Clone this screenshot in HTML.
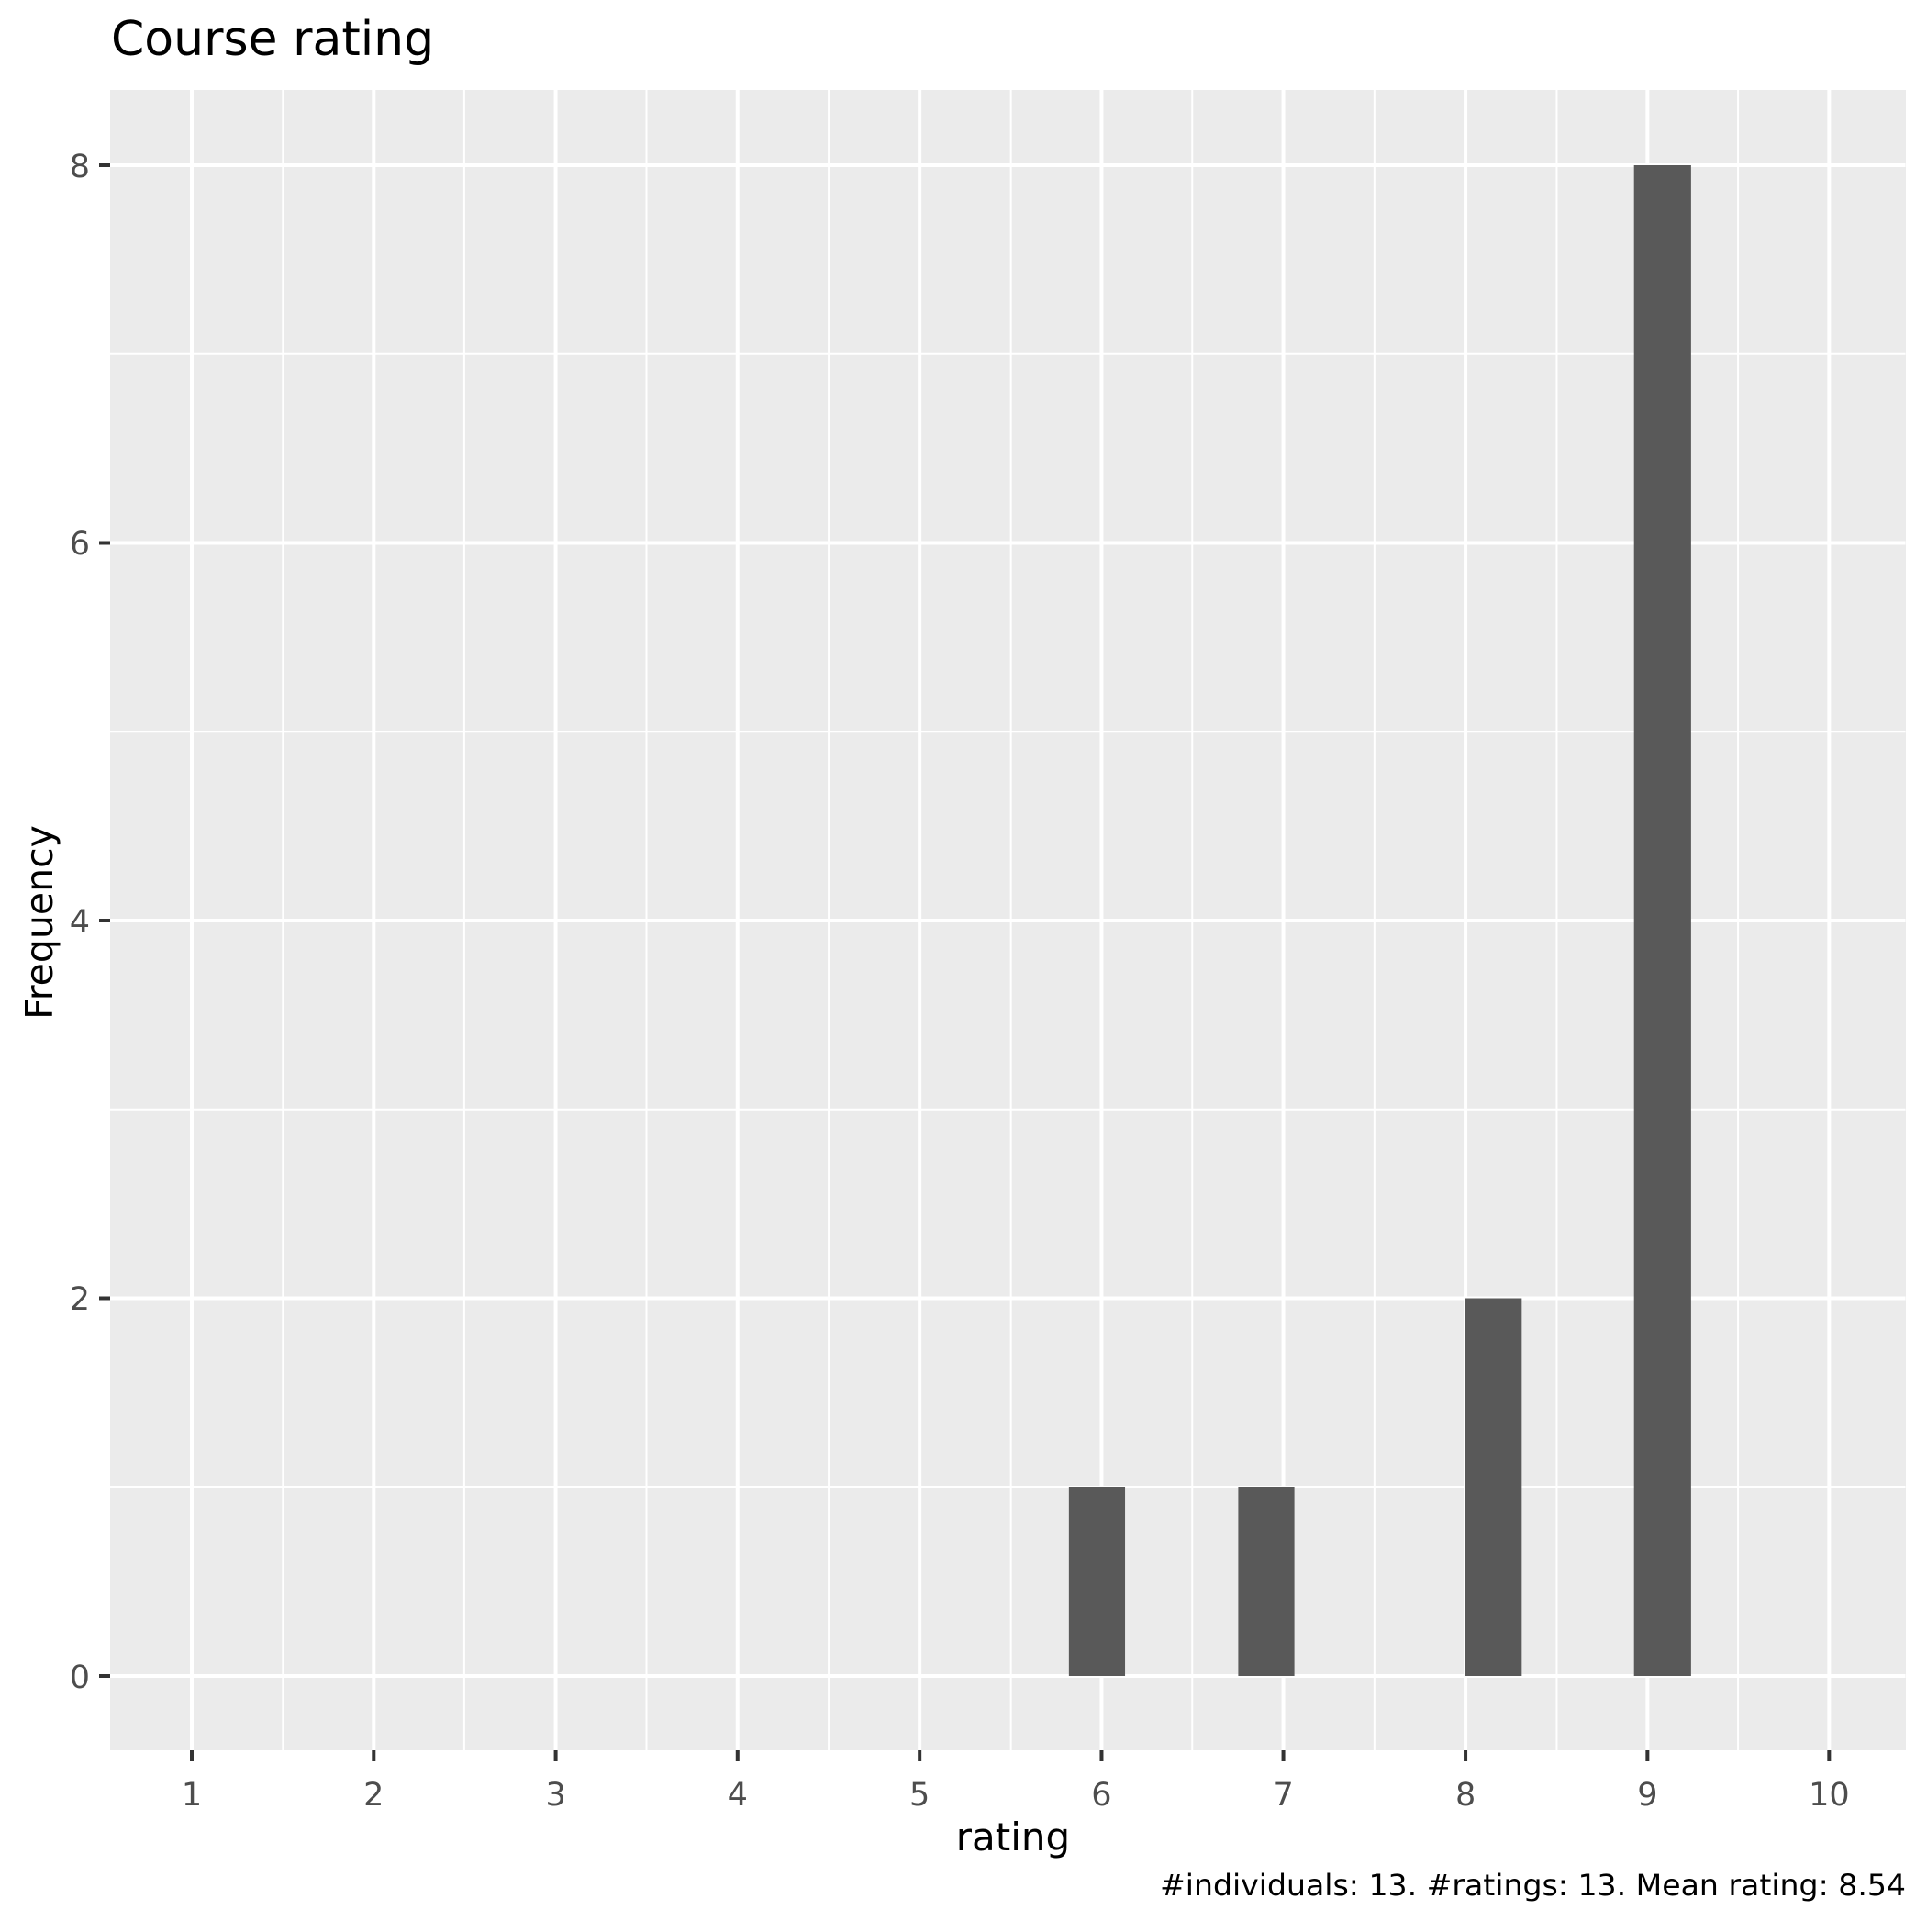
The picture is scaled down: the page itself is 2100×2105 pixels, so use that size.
<!DOCTYPE html>
<html><head><meta charset="utf-8"><style>html,body{margin:0;padding:0;background:#fff}</style></head>
<body>
<svg width="2100" height="2100" viewBox="0 0 2100 2100" xmlns="http://www.w3.org/2000/svg" font-family="'DejaVu Sans', 'Liberation Sans', sans-serif">
<rect x="0" y="0" width="2100" height="2100" fill="#fff"/>
<rect x="120" y="98" width="1957" height="1809" fill="#ebebeb"/>
<g transform="translate(209,0) scale(1.003,1) translate(-209,0)">
<g stroke="#fff" stroke-width="2">
<line x1="111" x2="2071" y1="1620" y2="1620"/>
<line x1="111" x2="2071" y1="1208.75" y2="1208.75"/>
<line x1="111" x2="2071" y1="797.25" y2="797.25"/>
<line x1="111" x2="2071" y1="385.75" y2="385.75"/>
<line y1="98" y2="1907" x1="308" x2="308"/>
<line y1="98" y2="1907" x1="505" x2="505"/>
<line y1="98" y2="1907" x1="703" x2="703"/>
<line y1="98" y2="1907" x1="901" x2="901"/>
<line y1="98" y2="1907" x1="1099" x2="1099"/>
<line y1="98" y2="1907" x1="1296" x2="1296"/>
<line y1="98" y2="1907" x1="1494" x2="1494"/>
<line y1="98" y2="1907" x1="1692" x2="1692"/>
<line y1="98" y2="1907" x1="1889" x2="1889"/>
</g>
<g stroke="#fff" stroke-width="4">
<line x1="111" x2="2071" y1="1826" y2="1826"/>
<line x1="111" x2="2071" y1="1414.5" y2="1414.5"/>
<line x1="111" x2="2071" y1="1003" y2="1003"/>
<line x1="111" x2="2071" y1="591.5" y2="591.5"/>
<line x1="111" x2="2071" y1="180" y2="180"/>
<line y1="98" y2="1907" x1="209" x2="209"/>
<line y1="98" y2="1907" x1="406.7" x2="406.7"/>
<line y1="98" y2="1907" x1="604.4" x2="604.4"/>
<line y1="98" y2="1907" x1="802" x2="802"/>
<line y1="98" y2="1907" x1="999.8" x2="999.8"/>
<line y1="98" y2="1907" x1="1197.5" x2="1197.5"/>
<line y1="98" y2="1907" x1="1395" x2="1395"/>
<line y1="98" y2="1907" x1="1592.9" x2="1592.9"/>
<line y1="98" y2="1907" x1="1790.6" x2="1790.6"/>
<line y1="98" y2="1907" x1="1988" x2="1988"/>
</g>
<g fill="#595959">
<rect x="1162" y="1620" width="61" height="206"/>
<rect x="1346" y="1620" width="61" height="206"/>
<rect x="1592" y="1414.5" width="62" height="411.5"/>
<rect x="1776" y="180" width="62" height="1646"/>
</g>
<g stroke="#333" stroke-width="4">
<line y1="1907" y2="1919" x1="209" x2="209"/>
<line y1="1907" y2="1919" x1="406.7" x2="406.7"/>
<line y1="1907" y2="1919" x1="604.4" x2="604.4"/>
<line y1="1907" y2="1919" x1="802" x2="802"/>
<line y1="1907" y2="1919" x1="999.8" x2="999.8"/>
<line y1="1907" y2="1919" x1="1197.5" x2="1197.5"/>
<line y1="1907" y2="1919" x1="1395" x2="1395"/>
<line y1="1907" y2="1919" x1="1592.9" x2="1592.9"/>
<line y1="1907" y2="1919" x1="1790.6" x2="1790.6"/>
<line y1="1907" y2="1919" x1="1988" x2="1988"/>
</g>
</g>
<rect x="0" y="98" width="120" height="1809" fill="#fff"/>
<rect x="2077" y="98" width="23" height="1809" fill="#fff"/>
<g stroke="#333" stroke-width="4">
<line x1="108" x2="120" y1="1826" y2="1826"/>
<line x1="108" x2="120" y1="1414.5" y2="1414.5"/>
<line x1="108" x2="120" y1="1003" y2="1003"/>
<line x1="108" x2="120" y1="591.5" y2="591.5"/>
<line x1="108" x2="120" y1="180" y2="180"/>
</g>
<g fill="#4d4d4d" font-size="35" text-anchor="end">
<text x="98" y="1839">0</text>
<text x="98" y="1427">2</text>
<text x="98" y="1016">4</text>
<text x="98" y="604">6</text>
<text x="98" y="193">8</text>
</g>
<g fill="#4d4d4d" font-size="35" text-anchor="middle">
<text x="209" y="1967">1</text>
<text x="407.3" y="1967">2</text>
<text x="605.6" y="1967">3</text>
<text x="803.8" y="1967">4</text>
<text x="1002.2" y="1967">5</text>
<text x="1200.4" y="1967">6</text>
<text x="1398.6" y="1967">7</text>
<text x="1597.1" y="1967">8</text>
<text x="1795.4" y="1967">9</text>
<text x="1993.4" y="1967">10</text>
</g>
<text x="121" y="60" font-size="52" fill="#000">Course rating</text>
<text x="1104" y="2016" font-size="42" fill="#000" text-anchor="middle">rating</text>
<text transform="translate(57,1005) rotate(-90)" font-size="41" fill="#000" text-anchor="middle">Frequency</text>
<text x="2077" y="2065" font-size="32" fill="#000" text-anchor="end" textLength="813" lengthAdjust="spacingAndGlyphs">#individuals: 13. #ratings: 13. Mean rating: 8.54</text>
</svg>
</body></html>
